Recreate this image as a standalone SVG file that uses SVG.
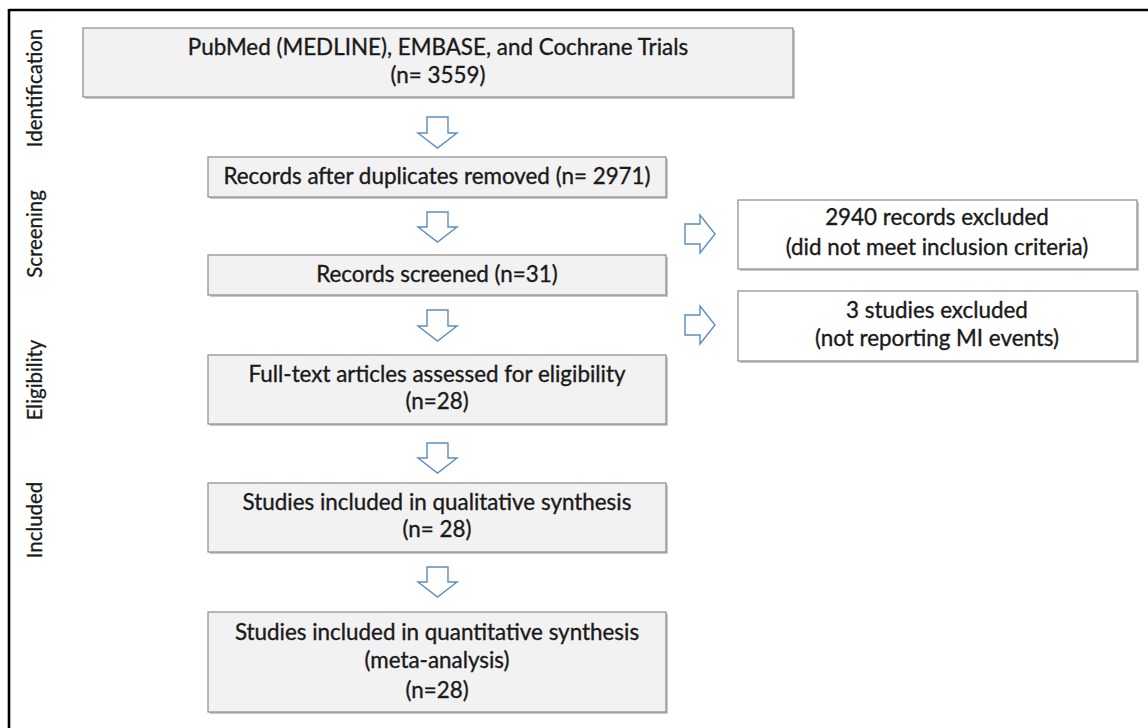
<svg xmlns="http://www.w3.org/2000/svg" width="1148" height="728" viewBox="0 0 1148 728">
<defs>
<style>
.box{fill:#f2f2f2;stroke:#8a8a8a;stroke-width:1.2}
.wbox{fill:#ffffff;stroke:#8a8a8a;stroke-width:1.2}
.sh{fill:#9a9a9a;opacity:0.55}
.t{font-family:Lato,"Open Sans","Liberation Sans",sans-serif;font-size:22.4px;fill:#1a1a1a;stroke:#1a1a1a;stroke-width:0.35;text-anchor:middle}
.side{font-family:Lato,"Open Sans","Liberation Sans",sans-serif;font-size:20.4px;fill:#1a1a1a;stroke:#1a1a1a;stroke-width:0.3;text-anchor:middle}
.arr{fill:#ffffff;stroke:#5b8cc4;stroke-width:1.4;stroke-linejoin:miter}
</style>
</defs>
<rect width="1148" height="728" fill="#ffffff"/>
<g id="frame">
<line x1="9" y1="10" x2="1148" y2="10" stroke="#000" stroke-width="2.6"/>
<line x1="9" y1="9" x2="9" y2="728" stroke="#000" stroke-width="2.6"/>
</g>
<g id="phase-labels">
<text class="side" transform="translate(42 88) rotate(-90)">Identification</text>
<text class="side" transform="translate(42 234) rotate(-90)">Screening</text>
<text class="side" transform="translate(42 380) rotate(-90)">Eligibility</text>
<text class="side" transform="translate(42 520) rotate(-90)">Included</text>
</g>
<g id="node-identification">
<rect class="sh" x="85" y="30" width="710" height="69"/>
<rect class="box" x="83" y="28" width="710" height="69"/>
<text class="t" x="438" y="55">PubMed (MEDLINE), EMBASE, and Cochrane Trials</text>
<text class="t" x="438" y="83">(n= 3559)</text>
</g>
<g id="node-duplicates">
<rect class="sh" x="210" y="159" width="458" height="40"/>
<rect class="box" x="208" y="157" width="458" height="40"/>
<text class="t" x="437" y="184">Records after duplicates removed (n= 2971)</text>
</g>
<g id="node-screened">
<rect class="sh" x="210" y="257" width="458" height="40"/>
<rect class="box" x="208" y="255" width="458" height="40"/>
<text class="t" x="437" y="282">Records screened (n=31)</text>
</g>
<g id="node-excluded-records">
<rect class="sh" x="740" y="202" width="399" height="69"/>
<rect class="wbox" x="738" y="200" width="399" height="69"/>
<text class="t" x="937" y="225">2940 records excluded</text>
<text class="t" x="937" y="255">(did not meet inclusion criteria)</text>
</g>
<g id="node-excluded-studies">
<rect class="sh" x="740" y="293" width="399" height="70"/>
<rect class="wbox" x="738" y="291" width="399" height="70"/>
<text class="t" x="937" y="318">3 studies excluded</text>
<text class="t" x="937" y="346">(not reporting MI events)</text>
</g>
<g id="node-fulltext">
<rect class="sh" x="210" y="357" width="458" height="69"/>
<rect class="box" x="208" y="355" width="458" height="69"/>
<text class="t" x="437" y="382">Full-text articles assessed for eligibility</text>
<text class="t" x="437" y="409">(n=28)</text>
</g>
<g id="node-qualitative">
<rect class="sh" x="210" y="485" width="458" height="69"/>
<rect class="box" x="208" y="483" width="458" height="69"/>
<text class="t" x="437" y="510">Studies included in qualitative synthesis</text>
<text class="t" x="437" y="537">(n= 28)</text>
</g>
<g id="node-quantitative">
<rect class="sh" x="210" y="614" width="458" height="100"/>
<rect class="box" x="208" y="612" width="458" height="100"/>
<text class="t" x="437" y="640">Studies included in quantitative synthesis</text>
<text class="t" x="437" y="668">(meta-analysis)</text>
<text class="t" x="437" y="698">(n=28)</text>
</g>
<g id="connectors">
<path class="arr" d="M427 117 H448 V133 H457 L437.5 148 L418 133 H427 Z"/>
<path class="arr" d="M427 212 H448 V227 H457 L437.5 242 L418 227 H427 Z"/>
<path class="arr" d="M427 310 H448 V326 H457 L437.5 341 L418 326 H427 Z"/>
<path class="arr" d="M427 443 H448 V458 H457 L437.5 473 L418 458 H427 Z"/>
<path class="arr" d="M427 567 H448 V582 H457 L437.5 597 L418 582 H427 Z"/>
<path class="arr" d="M685 224 H700 V215 L715 234 L700 253 V244 H685 Z"/>
<path class="arr" d="M685 315 H700 V306 L715 325 L700 344 V335 H685 Z"/>
</g>
</svg>
